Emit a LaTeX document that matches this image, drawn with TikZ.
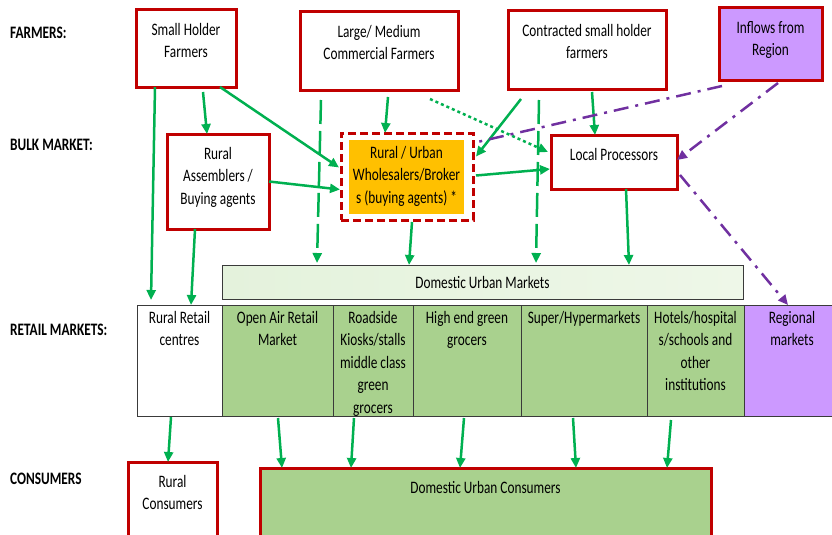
\documentclass[tikz,border=0pt]{standalone}
\usepackage{fontspec}
\setmainfont{Carlito}[FakeStretch=0.76]
\usetikzlibrary{arrows.meta}

\definecolor{boxred}{HTML}{C00000}
\definecolor{flowgreen}{HTML}{00B050}
\definecolor{regionpurple}{HTML}{7030A0}
\definecolor{regionfill}{HTML}{CC99FF}
\definecolor{brokerorange}{HTML}{FFC000}
\definecolor{marketgreen}{HTML}{A9D18E}
\definecolor{dumleft}{HTML}{E4F2DC}
\definecolor{dummid}{HTML}{D3EBC6}
\definecolor{dumright}{HTML}{EEF7E8}
\definecolor{cellgray}{HTML}{3A3A3A}

\begin{document}
\begin{tikzpicture}[x=1pt,y=-1pt,
  every node/.style={font=\fontsize{17.5}{22.5}\selectfont},
  redbox/.style={draw=boxred, line width=3pt, fill=white, outer sep=0pt, inner sep=0pt, anchor=north west},
  cell/.style={draw=cellgray, line width=1pt, fill=marketgreen, outer sep=0pt, inner sep=0pt, anchor=north west, minimum height=111pt},
  toptext/.style={label={[anchor=north, align=center, inner sep=0pt, yshift=-13pt]north:#1}},
  celltext/.style={label={[anchor=north, align=center, inner sep=0pt, yshift=-6pt]north:#1}},
  flow/.style={draw=flowgreen, line width=2.5pt, -{Triangle[length=10pt,width=9pt]}},
  region/.style={draw=regionpurple, line width=2.5pt, dash pattern=on 15pt off 7pt on 3pt off 7pt},
  stage/.style={anchor=west, inner sep=0pt, font=\fontsize{17.5}{22.5}\selectfont\bfseries}]
\useasboundingbox (0,0) rectangle (832,535);
\clip (0,0) rectangle (832,535);

% stage labels
\node[stage] (lfarmers) at (10,33) {FARMERS:};
\node[stage] (lbulk) at (10,145) {BULK MARKET:};
\node[stage] (lretail) at (10,330) {RETAIL MARKETS:};
\node[stage] (lconsumers) at (10,479) {CONSUMERS};

% farmers
\node[redbox, minimum width=100pt, minimum height=77pt, toptext={Small Holder\\Farmers}] (smallholder) at (136,10) {};
\node[redbox, minimum width=158pt, minimum height=78pt, toptext={Large/ Medium\\Commercial Farmers}] (large) at (300,12) {};
\node[redbox, minimum width=158pt, minimum height=78pt, toptext={Contracted small holder\\farmers}] (contracted) at (508,11) {};
\node[redbox, fill=regionfill, minimum width=103pt, minimum height=72pt, toptext={Inflows from\\Region}] (inflows) at (719,8) {};

% bulk market
\node[redbox, minimum width=102pt, minimum height=95pt, toptext={Rural\\Assemblers /\\Buying agents}] (assemblers) at (167,134) {};
\node[redbox, dash pattern=on 8pt off 4pt, minimum width=132pt, minimum height=87pt] (wholesalers) at (341,133) {};
\node[fill=brokerorange, anchor=north west, inner sep=0pt, outer sep=0pt, minimum width=115pt, minimum height=74pt,
  celltext={Rural / Urban\\Wholesalers/Broker\\s (buying agents) *}] (brokerfill) at (349,140) {};
\node[redbox, minimum width=126pt, minimum height=54pt, toptext={Local Processors}] (processors) at (551,135) {};

% retail markets
\node[draw=cellgray, line width=1pt, left color=dumleft, middle color=dummid, right color=dumright,
  anchor=north west, outer sep=0pt, minimum width=521pt, minimum height=34pt] (dum) at (222,265) {Domestic Urban Markets};
\node[cell, fill=white, minimum width=85pt, celltext={Rural Retail\\centres}] (ruralretail) at (137,305) {};
\node[cell, minimum width=111pt, celltext={Open Air Retail\\Market}] (openair) at (222,305) {};
\node[cell, minimum width=80pt, celltext={Roadside\\Kiosks/stalls\\middle class\\green\\grocers}] (roadside) at (333,305) {};
\node[cell, minimum width=108pt, celltext={High end green\\grocers}] (highend) at (413,305) {};
\node[cell, minimum width=126pt, celltext={Super/Hypermarkets}] (super) at (521,305) {};
\node[cell, minimum width=97pt, celltext={Hotels/hospital\\s/schools and\\other\\institutions}] (hotels) at (647,305) {};
\node[cell, fill=regionfill, minimum width=96pt, celltext={Regional\\markets}] (regional) at (744,305) {};

% consumers
\node[redbox, minimum width=89pt, minimum height=90pt, toptext={Rural\\Consumers}] (ruralcons) at (128,462) {};
\node[redbox, fill=marketgreen, minimum width=451pt, minimum height=90pt, toptext={Domestic Urban Consumers}] (duc) at (260,468) {};

% flows from farmers
\draw[flow] ([xshift=19pt]smallholder.south west) -- ([xshift=14pt,yshift=5pt]ruralretail.north west);
\draw[flow] ([xshift=67pt,yshift=-5pt]smallholder.south west) -- ([xshift=40pt]assemblers.north west);
\draw[flow] ([xshift=-16pt]smallholder.south east) -- ([xshift=-2pt,yshift=9pt]wholesalers.west);
\draw[flow] (assemblers.east) -- ([xshift=-1pt,yshift=-13pt]wholesalers.west);
\draw[flow] ([xshift=28pt]assemblers.south west) -- ([xshift=54pt]ruralretail.north west);
\draw[flow, dash pattern=on 24pt off 7pt] ([xshift=21pt,yshift=-10pt]large.south west) -- ([xshift=95pt,yshift=2pt]dum.north west);
\draw[flow] ([xshift=88pt,yshift=-7pt]large.south west) -- ([xshift=44pt]wholesalers.north west);
\draw[flow, dash pattern=on 3pt off 3pt] ([xshift=130pt,yshift=-9pt]large.south west) -- ([xshift=-3pt,yshift=10pt]processors.west);
\draw[flow] ([xshift=13pt,yshift=-10pt]contracted.south west) -- ([xshift=3pt,yshift=20pt]wholesalers.east);
\draw[flow, dash pattern=on 24pt off 7pt] ([xshift=31pt,yshift=-11pt]contracted.south west) -- ([xshift=314pt,yshift=2pt]dum.north west);
\draw[flow] ([xshift=84pt,yshift=-3pt]contracted.south west) -- ([xshift=44pt]processors.north west);
\draw[flow] ([xshift=3pt,yshift=1pt]wholesalers.east) -- ([xshift=-1pt,yshift=-7pt]processors.west);
\draw[flow] ([xshift=71pt,yshift=-2pt]wholesalers.south west) -- ([xshift=187pt]dum.north west);
\draw[flow] ([xshift=75pt]processors.south west) -- ([xshift=407pt]dum.north west);

% regional flows
\draw[region] ([xshift=3pt,yshift=-6pt]inflows.south west) -- ([yshift=-10pt]wholesalers.north east);
\draw[region, -{Triangle[length=10pt,width=9pt]}] ([xshift=59pt,yshift=-3pt]inflows.south west) -- ([yshift=2pt]processors.east);
\draw[region, -{Triangle[length=10pt,width=9pt]}] ([xshift=3pt,yshift=-13pt]processors.east) -- ([xshift=44pt]regional.north west);

% retail to consumers
\draw[flow] ([xshift=34pt,yshift=-1pt]ruralretail.south west) -- ([xshift=40pt]ruralcons.north west);
\draw[flow] ([xshift=56pt,yshift=-2pt]openair.south west) -- ([xshift=22pt]duc.north west);
\draw[flow] ([xshift=21pt,yshift=-2pt]roadside.south west) -- ([xshift=91pt]duc.north west);
\draw[flow] ([xshift=51pt,yshift=-2pt]highend.south west) -- ([xshift=200pt]duc.north west);
\draw[flow] ([xshift=52pt,yshift=-2pt]super.south west) -- ([xshift=316pt]duc.north west);
\draw[flow] ([xshift=24pt,yshift=-4pt]hotels.south west) -- ([xshift=407pt]duc.north west);

\end{tikzpicture}
\end{document}
